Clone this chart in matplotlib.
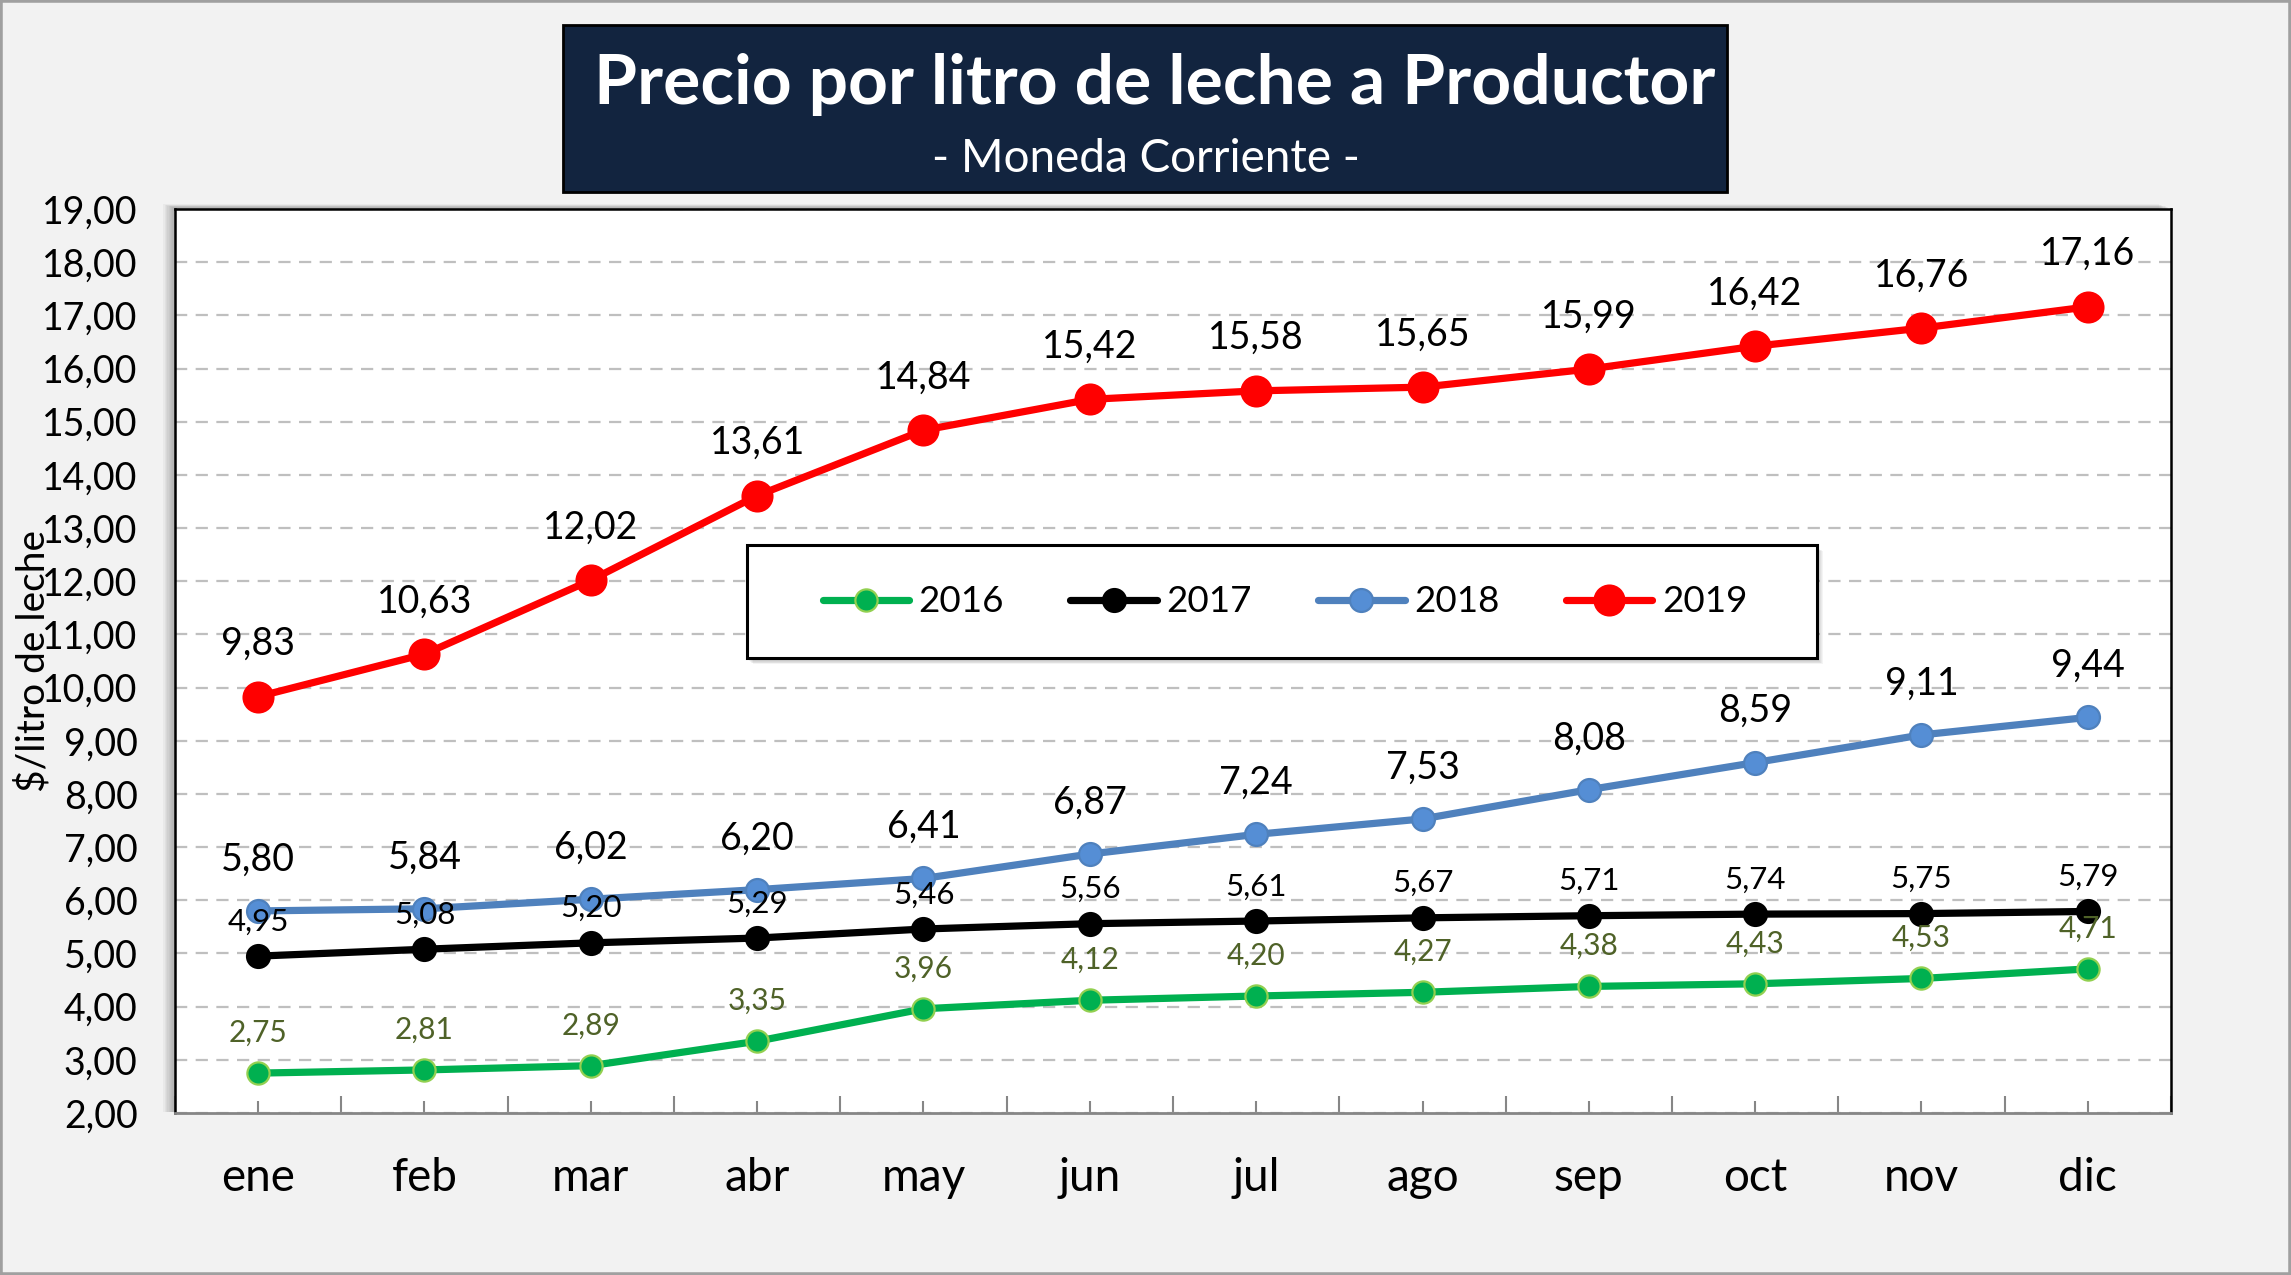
import matplotlib
matplotlib.use("Agg")
import matplotlib.pyplot as plt
from matplotlib.patches import Rectangle
import numpy as np

plt.rcParams['font.family'] = ['Lato', 'DejaVu Sans']

# ---------------- data ----------------
months = ["ene", "feb", "mar", "abr", "may", "jun", "jul", "ago", "sep", "oct", "nov", "dic"]
years = ["2016", "2017", "2018", "2019"]
v2016 = [2.75, 2.81, 2.89, 3.35, 3.96, 4.12, 4.20, 4.27, 4.38, 4.43, 4.53, 4.71]
v2017 = [4.95, 5.08, 5.20, 5.29, 5.46, 5.56, 5.61, 5.67, 5.71, 5.74, 5.75, 5.79]
v2018 = [5.80, 5.84, 6.02, 6.20, 6.41, 6.87, 7.24, 7.53, 8.08, 8.59, 9.11, 9.44]
v2019 = [9.83, 10.63, 12.02, 13.61, 14.84, 15.42, 15.58, 15.65, 15.99, 16.42, 16.76, 17.16]
yticks = list(range(2, 20))
title = "Precio por litro de leche a Productor"
subtitle = "- Moneda Corriente -"
ylabel = "$/litro de leche"

W, H = 2291, 1275
fig = plt.figure(figsize=(W / 100, H / 100), dpi=100)
fig.patch.set_facecolor('#F2F2F2')

def fx(px):
    return px / W

def fy(py):
    return 1 - py / H

# figure border
fig.patches.append(Rectangle((0, 0), 1, 1, transform=fig.transFigure, fill=False,
                             edgecolor='#A0A0A0', lw=4, zorder=-5))

# plot area
L, T, R, B = 175, 209, 2171, 1113
ax = fig.add_axes([fx(L), fy(B), fx(R - L), (B - T) / H])
ax.set_facecolor('white')

# plot-area shadow (left / top)
for k in range(1, 10):
    fig.patches.append(Rectangle((fx(L - k * 1.3), fy(B - 1)), fx(R - L), (B - T + k * 0.4) / H,
                                 transform=fig.transFigure, facecolor='#555555',
                                 edgecolor='none', alpha=0.055, zorder=-2))

# series
series = [
    dict(v=v2016, color='#00B050', mfc='#00B050', mec='#92D050', ms=16, lw=5.2,
         fs=21.5, lc='#4F6228', off=29),
    dict(v=v2017, color='#000000', mfc='#000000', mec='#000000', ms=16.5, lw=5.2,
         fs=22.5, lc='#000000', off=25),
    dict(v=v2018, color='#4F81BD', mfc='#558ED5', mec='#4F81BD', ms=16.5, lw=5.2,
         fs=27, lc='#000000', off=37),
    dict(v=v2019, color='#FF0000', mfc='#FF0000', mec='#FF0000', ms=21.5, lw=5.2,
         fs=27, lc='#000000', off=38),
]
x = np.arange(len(months))
handles = []
for s, yr in zip(series, years):
    ln, = ax.plot(x, s['v'], color=s['color'], lw=s['lw'], marker='o', ms=s['ms'],
                  mfc=s['mfc'], mec=s['mec'], mew=1.6, label=yr, zorder=4,
                  solid_capstyle='round')
    handles.append(ln)
    for xi, yi in zip(x, s['v']):
        ax.annotate(f"{yi:.2f}".replace('.', ','), (xi, yi), xytext=(0, s['off']),
                    textcoords='offset points', ha='center', va='center',
                    fontsize=s['fs'], color=s['lc'], zorder=5)

ax.set_xlim(-0.5, 11.5)
ax.set_ylim(2, 19)
ax.set_yticks(yticks)
ax.set_yticklabels([f"{v:.2f}".replace('.', ',') for v in yticks])
ax.set_xticks(x)
ax.set_xticklabels(months)
ax.set_xticks(np.arange(-0.5, 12, 1), minor=True)

ax.yaxis.grid(True, color='#BFBFBF', lw=1.6, linestyle=(0, (5.5, 3.8)))
ax.set_axisbelow(True)
ax.tick_params(axis='y', length=0, pad=27, labelsize=27, colors='black')
ax.tick_params(axis='x', which='major', direction='in', length=9, width=1.5,
               color='#868686', pad=32, labelsize=33)
ax.tick_params(axis='x', which='minor', direction='in', length=12, width=1.5,
               color='#868686')
for side in ['top', 'left', 'right']:
    ax.spines[side].set_color('black')
    ax.spines[side].set_linewidth(1.8)
ax.spines['bottom'].set_color('#868686')
ax.spines['bottom'].set_linewidth(2)

# y label
fig.text(fx(33), fy(661), ylabel, rotation=90, ha='center', va='center', fontsize=28)

# title box
fig.patches.append(Rectangle((fx(563), fy(192)), fx(1727 - 563), (192 - 25) / H,
                             transform=fig.transFigure, facecolor='#12243F',
                             edgecolor='black', lw=2, zorder=1))
fig.text(fx(1155), fy(104), title, ha='center', va='baseline', fontsize=50,
         fontweight='bold', color='white', zorder=3)
fig.text(fx(1146), fy(172), subtitle, ha='center', va='baseline', fontsize=33,
         color='white', zorder=3)

# legend box with shadow
for k in range(1, 8):
    ax.add_patch(Rectangle((fx(747 + k * 0.8), fy(658 + k * 0.9)), fx(1817 - 747), (658 - 545) / H,
                           transform=fig.transFigure, facecolor='#333333', edgecolor='none',
                           alpha=0.05, clip_on=False, zorder=9))
ax.add_patch(Rectangle((fx(747), fy(658)), fx(1817 - 747), (658 - 545) / H,
                       transform=fig.transFigure, facecolor='white', edgecolor='black',
                       lw=2.2, clip_on=False, zorder=10))
leg = ax.legend(handles=handles, labels=years, loc='center',
                bbox_to_anchor=(fx(1285), fy(602)), bbox_transform=fig.transFigure,
                ncol=4, frameon=False, fontsize=26.5, handlelength=2.35,
                handletextpad=0.26, columnspacing=1.8, borderpad=0)
leg.set_zorder(11)

fig.savefig("out.png", dpi=100, facecolor=fig.get_facecolor())
